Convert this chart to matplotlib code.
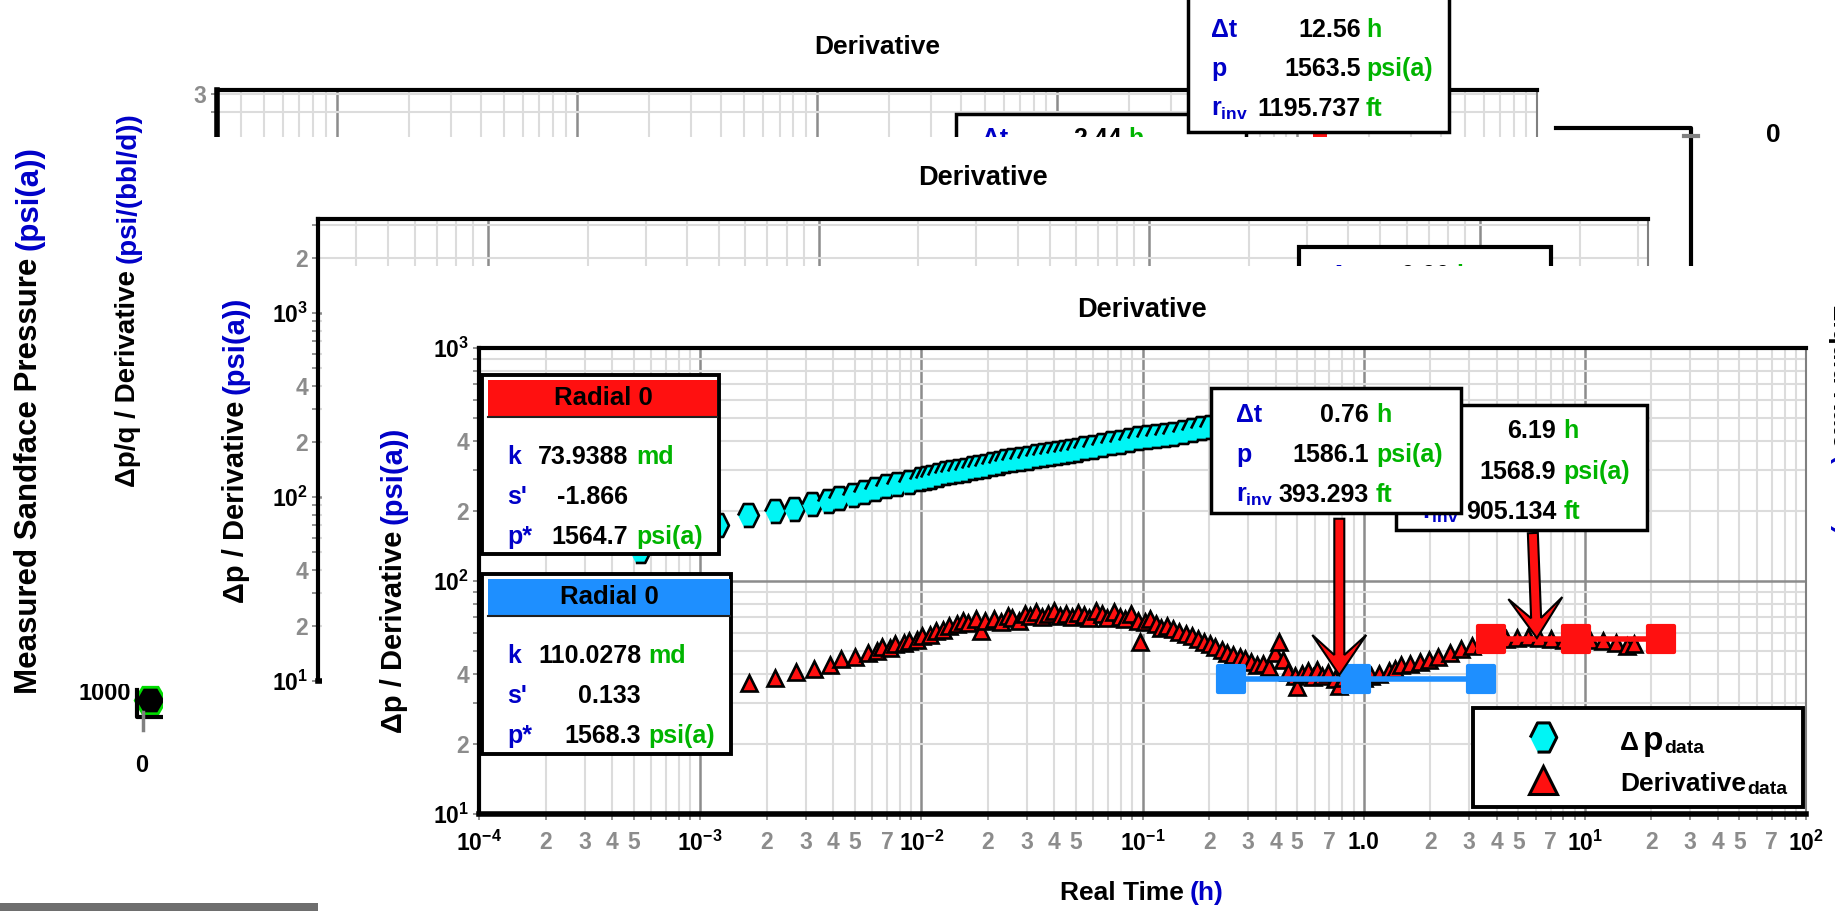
import numpy as np
import matplotlib
matplotlib.use('Agg')
import matplotlib.pyplot as plt
from matplotlib.patches import Rectangle, Polygon
from matplotlib.markers import MarkerStyle
from matplotlib.ticker import LogLocator, FuncFormatter, NullFormatter, FixedLocator, FixedFormatter

# ---------------- data ----------------
dp_time = [5.33e-4, 1.20e-3, 1.65e-3, 2.18e-3, 2.67e-3, 3.21e-3, 3.78e-3, 4.25e-3, 4.89e-3, 5.50e-3,
           6.18e-3, 6.95e-3, 7.80e-3, 8.77e-3, 9.86e-3, 1.045e-2, 1.107e-2, 1.189e-2, 1.274e-2, 1.368e-2,
           1.466e-2, 1.574e-2, 1.687e-2, 1.811e-2, 1.941e-2, 2.084e-2, 2.234e-2, 2.399e-2, 2.570e-2, 2.793e-2,
           3.03e-2, 3.289e-2, 3.56e-2, 3.828e-2, 4.10e-2, 4.395e-2, 4.71e-2, 5.058e-2, 5.42e-2, 5.957e-2,
           6.53e-2, 7.178e-2, 7.89e-2, 8.670e-2, 9.51e-2, 0.1045, 0.1146, 0.1259, 0.138, 0.1517,
           0.1667, 0.1832, 0.201, 0.251, 0.355, 0.501, 0.708, 1.0, 1.41, 2.0,
           2.82, 3.98, 5.62, 7.94, 11.2, 15.8]
dp_value = [134.0, 174.6, 192.3, 199.1, 204.2, 214.3, 220.8, 227.0, 234.4, 242.1,
            247.7, 254.7, 261.2, 267.3, 273.5, 277.3, 280.5, 285.1, 289.7, 293.1,
            296.5, 300.6, 304.8, 308.3, 312.6, 317.0, 322.1, 325.8, 330.4, 334.2,
            338.1, 342.8, 347.5, 351.6, 355.6, 358.9, 362.2, 366.4, 370.7, 376.7,
            383.7, 389.9, 396.3, 402.7, 409.3, 414.0, 418.8, 424.6, 429.5, 436.5,
            444.6, 451.9, 459.2, 467.7, 474.2, 479.7, 484.2, 487.5, 489.8, 492.0,
            494.3, 495.5, 496.6, 497.7, 498.9, 500.0]

der_time = [5.33e-4, 1.202e-3, 1.656e-3, 2.178e-3, 2.704e-3, 3.258e-3, 3.873e-3, 4.355e-3, 5.012e-3, 5.754e-3,
            6.310e-3, 6.622e-3, 7.244e-3, 7.621e-3, 8.318e-3, 8.770e-3, 9.550e-3, 1.009e-2, 1.096e-2, 1.161e-2,
            1.259e-2, 1.337e-2, 1.445e-2, 1.538e-2, 1.622e-2, 1.766e-2, 1.854e-2, 1.950e-2, 2.128e-2, 2.291e-2,
            2.455e-2, 2.570e-2, 2.754e-2, 2.951e-2, 3.097e-2, 3.311e-2, 3.508e-2, 3.733e-2, 3.981e-2, 4.217e-2,
            4.498e-2, 4.786e-2, 5.129e-2, 5.420e-2, 5.754e-2, 6.166e-2, 6.531e-2, 6.918e-2, 7.413e-2, 7.889e-2,
            8.318e-2, 8.913e-2, 9.506e-2, 9.727e-2, 0.1023, 0.1084, 0.1146, 0.1216, 0.1288, 0.1380,
            0.1462, 0.1567, 0.1667, 0.1778, 0.1905, 0.2009, 0.2138, 0.2291, 0.2421, 0.2570,
            0.2754, 0.2917, 0.3090, 0.3311, 0.3516, 0.3715, 0.3981, 0.4140, 0.4315, 0.4571,
            0.4875, 0.5012, 0.5248, 0.5610, 0.5888, 0.6166, 0.6457, 0.6918, 0.7430, 0.7762,
            0.8128, 0.8710, 0.9333, 1.000, 1.079, 1.175, 1.300, 1.380, 1.472, 1.622,
            1.791, 1.972, 2.178, 2.455, 2.754, 3.090, 3.467, 3.890, 4.395, 4.955,
            5.559, 6.237, 7.015, 8.035, 9.226, 10.59, 12.13, 13.80, 15.49, 16.60]
der_value = [31.6, 34.7, 36.6, 38.5, 40.6, 41.9, 43.6, 46.2, 47.0, 49.3,
             50.1, 51.9, 51.5, 53.6, 54.3, 55.3, 56.0, 58.1, 58.9, 61.1,
             61.7, 64.1, 65.3, 67.5, 66.1, 68.5, 61.1, 67.6, 69.0, 67.0,
             70.8, 69.7, 67.6, 72.1, 70.8, 73.8, 70.0, 71.9, 74.5, 70.8,
             71.9, 70.0, 72.8, 71.3, 69.2, 74.6, 71.9, 69.5, 73.5, 70.3,
             68.4, 72.1, 67.5, 54.5, 66.8, 68.4, 65.2, 63.1, 64.3, 62.1,
             60.3, 59.2, 58.1, 56.5, 54.7, 53.6, 51.9, 50.7, 49.3, 47.9,
             47.0, 46.2, 44.7, 43.7, 44.0, 42.7, 49.0, 54.5, 45.7, 40.7,
             39.3, 35.1, 39.8, 41.2, 38.9, 41.7, 39.3, 40.3, 37.9, 35.5,
             38.5, 37.6, 38.9, 38.5, 39.3, 39.8, 41.2, 41.9, 43.4, 44.2,
             44.8, 45.9, 47.1, 49.0, 51.1, 52.5, 53.7, 55.2, 56.4, 56.9,
             57.3, 56.8, 56.4, 55.8, 55.5, 55.7, 55.5, 54.3, 52.5, 53.7]

radial_blue_time = [0.251, 0.92, 3.4]
radial_blue_level = [38.0, 38.0, 38.0]
radial_red_time = [3.76, 9.16, 22.2]
radial_red_level = [56.4, 56.4, 56.4]

arrow_tail_time = [0.776, 5.82]
arrow_tail_value = [185.0, 160.6]
arrow_tip_time = [0.776, 6.07]
arrow_tip_value = [39.5, 56.9]

fit_labels = ['k', "s'", 'p*']
fit_units = ['md', '', 'psi(a)']
red_fit_values = ['73.9388', '-1.866', '1564.7']
blue_fit_values = ['110.0278', '0.133', '1568.3']
cursor_labels = ['\u0394t', 'p', r'r$_{\rm inv}$']
cursor_units = ['h', 'psi(a)', 'ft']
cursor1_values = ['0.76', '1586.1', '393.293']
cursor2_values = ['6.19', '1568.9', '905.134']
back_cursor_values = ['12.56', '1563.5', '1195.737']

x_major_ticks = [1e-4, 1e-3, 1e-2, 1e-1, 1e0, 1e1, 1e2]
x_major_labels = [r'$10^{-4}$', r'$10^{-3}$', r'$10^{-2}$', r'$10^{-1}$', '1.0', r'$10^{1}$', r'$10^{2}$']
x_minor_labelled = {-4: [2, 3, 4, 5], -3: [2, 3, 4, 5, 7], -2: [2, 3, 4, 5],
                    -1: [2, 3, 4, 5, 7], 0: [2, 3, 4, 5, 7], 1: [2, 3, 4, 5, 7]}
y_major_ticks = [10, 100, 1000]
y_major_labels = [r'$10^{1}$', r'$10^{2}$', r'$10^{3}$']
y_minor_labelled = {1: [2, 4], 2: [2, 4]}
w2_y_minor_labelled = {1: [2, 4], 2: [2, 4], 3: [2]}
w1_y_minor_labelled = {0: [3]}

# ---------------- style ----------------
W, H = 1835, 911
plt.rcParams.update({
    'font.family': ['Liberation Sans', 'DejaVu Sans'],
    'font.weight': 'bold',
    'mathtext.fontset': 'custom',
    'mathtext.rm': 'Liberation Sans:bold',
    'mathtext.it': 'Liberation Sans:bold',
    'mathtext.bf': 'Liberation Sans:bold',
    'mathtext.sf': 'Liberation Sans:bold',
})
BLUE_TXT = '#0000C8'
GREEN = '#00B400'
GRAY_LBL = '#8C8C8C'
CYAN = '#00F5F5'
RED = '#FF1010'
FITBLUE = '#1E8FFF'
HEX = [(-1, 0), (-0.45, 1.1), (0.45, 1.1), (1, 0), (0.45, -1.1), (-0.45, -1.1)]

fig = plt.figure(figsize=(W / 100, H / 100), dpi=100)
fig.patch.set_facecolor('white')
renderer = fig.canvas.get_renderer()


def layer(z):
    a = fig.add_axes([0, 0, 1, 1], zorder=z)
    a.set_xlim(0, W)
    a.set_ylim(H, 0)
    a.axis('off')
    return a


def px_axes(x0, y0, x1, y1, z):
    return fig.add_axes([x0 / W, 1 - y1 / H, (x1 - x0) / W, (y1 - y0) / H], zorder=z)


def cover(ax, x0, y0, x1, y1):
    ax.add_patch(Rectangle((x0, y0), x1 - x0, y1 - y0, facecolor='white', edgecolor='none', zorder=0))


def seq_v(ax, xc, yc, pieces, fs, rot=90, gap=7):
    em = fs * 100 / 72
    x = xc + 0.33 * em if rot == 90 else xc - 0.33 * em
    ts, lens = [], []
    for s, c in pieces:
        t = ax.text(x, yc, s, rotation=rot, rotation_mode='anchor', ha='left', va='baseline',
                    fontsize=fs, color=c, fontweight='bold', zorder=5)
        ts.append(t)
        lens.append(t.get_window_extent(renderer).height)
    total = sum(lens) + gap * (len(pieces) - 1)
    if rot == 90:
        cur = yc + total / 2
        for t, L in zip(ts, lens):
            t.set_position((x, cur))
            cur -= L + gap
    else:
        cur = yc - total / 2
        for t, L in zip(ts, lens):
            t.set_position((x, cur))
            cur += L + gap
    return ts


def seq_h(ax, x, y, pieces, ha='left', z=8):
    ts, cur = [], x
    for s, c, fs, dy, gap in pieces:
        cur += gap
        t = ax.text(cur, y + dy, s, ha='left', va='baseline', fontsize=fs, color=c,
                    fontweight='bold', zorder=z)
        cur += t.get_window_extent(renderer).width
        ts.append(t)
    if ha == 'center':
        off = (cur - x) / 2
        for t in ts:
            px, py = t.get_position()
            t.set_position((px - off, py))
    return ts


def minor_fmt(sets):
    def f(v, pos):
        e = int(np.floor(np.log10(v) + 1e-9))
        m = int(round(v / 10 ** e))
        return str(m) if m in sets.get(e, []) else ''
    return FuncFormatter(f)


def style_log(ax, xlim, ylim, xsets=None, ysets=None, yfix=True, xfix=False):
    ax.set_xscale('log')
    ax.set_yscale('log')
    ax.set_xlim(*xlim)
    ax.set_ylim(*ylim)
    for axis, sets in ((ax.xaxis, xsets), (ax.yaxis, ysets)):
        axis.set_major_locator(LogLocator(base=10, numticks=60))
        axis.set_major_formatter(NullFormatter())
        axis.set_minor_locator(LogLocator(base=10, subs=np.arange(2, 10), numticks=60))
        axis.set_minor_formatter(minor_fmt(sets) if sets else NullFormatter())
    if xfix:
        ax.xaxis.set_major_locator(FixedLocator(x_major_ticks))
        ax.xaxis.set_major_formatter(FixedFormatter(x_major_labels))
    if yfix:
        ax.yaxis.set_major_locator(FixedLocator(y_major_ticks))
        ax.yaxis.set_major_formatter(FixedFormatter(y_major_labels))
    ax.grid(True, which='minor', color='#DCDCDC', lw=1.5)
    ax.grid(True, which='major', color='#8C8C8C', lw=1.8)
    ax.set_axisbelow(True)
    ax.tick_params(which='both', direction='out', length=4, width=1.2, color='#808080',
                   labelsize=16.5, pad=3)
    ax.tick_params(which='minor', labelcolor=GRAY_LBL)
    ax.spines['top'].set(color='black', lw=3)
    ax.spines['left'].set(color='black', lw=3)
    ax.spines['bottom'].set(color='black', lw=4)
    ax.spines['right'].set(color='#808080', lw=1.5)


def info_box(ax, x0, y0, x1, y1, lab_x, val_x, unit_x, baselines, labels, values, units,
             fs=18, lw=2.5, z=4):
    ax.add_patch(Rectangle((x0, y0), x1 - x0, y1 - y0, facecolor='white', edgecolor='black',
                           lw=lw, zorder=z))
    for yb, lab, val, unit in zip(baselines, labels, values, units):
        ax.text(lab_x, yb, lab, ha='left', va='baseline', fontsize=fs, color=BLUE_TXT, zorder=z + 0.5)
        ax.text(val_x, yb, val, ha='right', va='baseline', fontsize=fs, color='black', zorder=z + 0.5)
        ax.text(unit_x, yb, unit, ha='left', va='baseline', fontsize=fs, color=GREEN, zorder=z + 0.5)


# ---------------- window 0 (far back) ----------------
L0 = layer(0.1)
seq_v(L0, 27, 420, [('Measured Sandface Pressure', 'black'), ('(psi(a))', BLUE_TXT)], 22.5)
L0.text(131, 700, '1000', ha='right', va='baseline', fontsize=17, color='black')
L0.plot([150], [700], marker='H', ms=22, mfc='black', mec='#00DD00', mew=2, ls='none')
L0.plot([137, 137, 165], [690, 717, 717], color='black', lw=3)
L0.plot([143, 143], [712, 730], color='#808080', lw=2.5)
L0.text(142, 766, '0', ha='center', va='center', fontsize=17, color='black')

# ---------------- window 1 ----------------
L1a = layer(1.0)
cover(L1a, 60, 0, W, 684)
L1a.text(877, 47, 'Derivative', ha='center', va='center', fontsize=19, color='black')
seq_v(L1a, 126, 300, [('\u0394p/q / Derivative', 'black'), ('(psi/(bbl/d))', BLUE_TXT)], 20)

ax1 = px_axes(216.5, 90, 1537, 684, 1.2)
style_log(ax1, (10 ** -3.5, 100), (4.9e-6, 3.28), ysets=w1_y_minor_labelled, yfix=False)
ax1.tick_params(axis='x', labelbottom=False)
ax1.spines['left'].set(lw=4)

L1b = layer(1.4)
L1b.add_patch(Rectangle((1313, 122), 14, 22, facecolor=RED, edgecolor='none', zorder=2))
info_box(L1b, 956, 114, 1246, 320, 982, 1122, 1128, [146], ['\u0394t'], ['2.44'], ['h'], z=3)
info_box(L1b, 1188, -20, 1449, 132, 1211, 1361, 1366, [37, 76, 116], cursor_labels,
         back_cursor_values, cursor_units, z=5)
L1b.plot([1556, 1691, 1691], [128, 128, 300], color='black', lw=3)
L1b.plot([1684, 1698], [136, 136], color='#808080', lw=3)
L1b.text(1773, 135, '0', ha='center', va='center', fontsize=19, color='black')
seq_v(L1b, 1842, 420, [('Liquid Rate', 'black'), ('(bbl/d)', BLUE_TXT)], 19, rot=270)

# ---------------- window 2 ----------------
L2a = layer(2.0)
cover(L2a, 163, 137, 1670, H)
L2a.text(983, 178, 'Derivative', ha='center', va='center', fontsize=19.5, color='black')
seq_v(L2a, 234, 450, [('\u0394p / Derivative', 'black'), ('(psi(a))', BLUE_TXT)], 21)

ax2 = px_axes(318, 219, 1648, 681, 2.2)
style_log(ax2, (10 ** -3.514, 10 ** 0.508), (10, 3240), ysets=w2_y_minor_labelled)
ax2.tick_params(axis='x', labelbottom=False)

L2b = layer(2.4)
info_box(L2b, 1299, 247, 1551, 400, 1330, 1450, 1456, [283], ['\u0394t'], ['0.00'], ['h'], lw=3)
L2b.add_patch(Rectangle((0, 903), 318, 8, facecolor='#6E6E6E', edgecolor='none'))

# ---------------- main window ----------------
L3a = layer(3.0)
cover(L3a, 322, 266, 1822, H)
L3a.text(1142, 310, 'Derivative', ha='center', va='center', fontsize=19.5, color='black')
seq_v(L3a, 392, 580, [('\u0394p / Derivative', 'black'), ('(psi(a))', BLUE_TXT)], 21)
seq_h(L3a, 1142, 900, [('Real Time', 'black', 19, 0, 0), ('(h)', BLUE_TXT, 19, 0, 6)], ha='center')

ax = px_axes(479, 348, 1806, 814, 3.2)
style_log(ax, (1e-4, 1e2), (10, 1000), xsets=x_minor_labelled, ysets=y_minor_labelled, xfix=True)
ax.tick_params(axis='x', which='both', pad=8)

ax.plot(dp_time, dp_value, ls='none', marker=HEX, ms=16.5, mfc=CYAN, mec='black', mew=1.9, zorder=3)
ax.plot(der_time, der_value, ls='none', marker='^', ms=12, mfc=RED, mec='black', mew=1.9, zorder=4)
sq = MarkerStyle('s', joinstyle='round')
ax.plot(radial_blue_time, radial_blue_level, color=FITBLUE, lw=4, marker=sq, ms=19,
        mfc=FITBLUE, mec=FITBLUE, mew=3, zorder=5)
ax.plot(radial_red_time, radial_red_level, color=RED, lw=4, marker=sq, ms=19,
        mfc=RED, mec=RED, mew=3, zorder=5)

L3b = layer(3.4)
# fit result boxes
for (y0, y1, x1b, hy1, col, vals, vx, ux, hc) in [
        (374.5, 554, 718.6, 416.6, RED, red_fit_values, 628, 636, 603),
        (574, 754, 731, 616, FITBLUE, blue_fit_values, 641, 648, 609)]:
    L3b.add_patch(Rectangle((482, y0), x1b - 482, y1 - y0,
                            facecolor='white', edgecolor='black', lw=2.8, zorder=4))
    x1 = x1b - 1.5
    L3b.add_patch(Rectangle((488, y0 + 5), x1 - 488, hy1 - y0 - 5, facecolor=col,
                            edgecolor='none', zorder=5))
    L3b.plot([488, x1], [hy1, hy1], color='#202020', lw=1.5, zorder=5)
    L3b.text(hc, (y0 + 5 + hy1) / 2, 'Radial 0', ha='center', va='center', fontsize=18.5,
             color='black', zorder=6)
    for i, (lab, val, unit) in enumerate(zip(fit_labels, vals, fit_units)):
        yb = hy1 + 47 + i * 40
        L3b.text(507, yb, lab, ha='left', va='baseline', fontsize=18, color=BLUE_TXT, zorder=6)
        L3b.text(vx, yb, val, ha='right', va='baseline', fontsize=18, color='black', zorder=6)
        L3b.text(ux, yb, unit, ha='left', va='baseline', fontsize=18, color=GREEN, zorder=6)

# cursor boxes (second one drawn on top of the first)
info_box(L3b, 1396, 405, 1647, 530, 1421.6, 1556, 1563.5, [438.5, 479, 519], cursor_labels,
         cursor2_values, cursor_units, z=4)
info_box(L3b, 1211, 388, 1461, 513, 1236, 1369, 1376, [422, 462, 502], cursor_labels,
         cursor1_values, cursor_units, z=5)

# arrows
for tt, tv, pt, pv in zip(arrow_tail_time, arrow_tail_value, arrow_tip_time, arrow_tip_value):
    d0 = ax.transData.transform((tt, tv))
    d1 = ax.transData.transform((pt, pv))
    tail = np.array([d0[0], H - d0[1]])
    tip = np.array([d1[0], H - d1[1]])
    u = (tip - tail) / np.hypot(*(tip - tail))
    n = np.array([-u[1], u[0]])
    sw, hw, hl, notch = 5, 27, 40, 20
    pts = [tail + n * sw, tip - u * notch + n * sw, tip - u * hl + n * hw, tip,
           tip - u * hl - n * hw, tip - u * notch - n * sw, tail - n * sw]
    L3b.add_patch(Polygon(pts, closed=True, facecolor=RED, edgecolor='black', lw=1.5, zorder=7))

# legend
L3b.add_patch(Rectangle((1473, 708), 330, 99, facecolor='white', edgecolor='black', lw=2.8, zorder=7))
L3b.plot([1543], [737], marker=HEX, ms=21, mfc=CYAN, mec='black', mew=2.2, ls='none', zorder=8)
L3b.plot([1543], [780], marker='^', ms=20, mfc=RED, mec='black', mew=2.2, ls='none', zorder=8)
seq_h(L3b, 1620, 750, [('\u0394', 'black', 19, 0, 0), ('p', 'black', 24, 0, 4),
                       ('data', 'black', 14, 3, 1)])
seq_h(L3b, 1620, 791, [('Derivative', 'black', 19, 0, 0), ('data', 'black', 14, 3, 1)])

fig.savefig('out.png', dpi=100, facecolor='white')
